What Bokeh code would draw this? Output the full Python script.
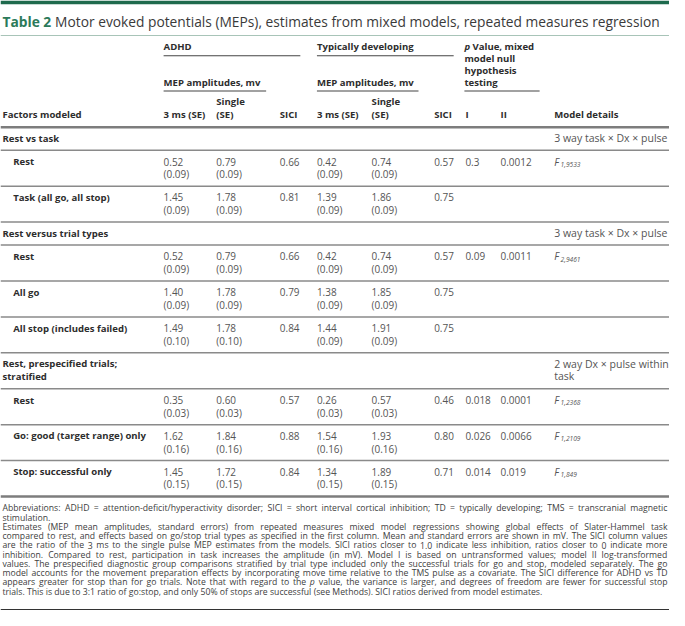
from collections import defaultdict
from bokeh.plotting import figure
from bokeh.models import Range1d, ColumnDataSource
from bokeh.core.properties import value
from bokeh.embed import file_html
from bokeh.resources import INLINE

# ---------------- data ----------------
title_label = "Table 2"
title_text = "Motor evoked potentials (MEPs), estimates from mixed models, repeated measures regression"

group_labels = [["Rest vs task"], ["Rest versus trial types"], ["Rest, prespecified trials;", "stratified"]]
group_models = [["3 way task × Dx × pulse"], ["3 way task × Dx × pulse"], ["2 way Dx × pulse within", "task"]]
rows_per_group = [2, 3, 3]

row_labels = ["Rest", "Task (all go, all stop)", "Rest", "All go", "All stop (includes failed)",
              "Rest", "Go: good (target range) only", "Stop: successful only"]
adhd_3ms = [0.52, 1.45, 0.52, 1.40, 1.49, 0.35, 1.62, 1.45]
adhd_3ms_se = [0.09, 0.09, 0.09, 0.09, 0.10, 0.03, 0.16, 0.15]
adhd_single = [0.79, 1.78, 0.79, 1.78, 1.78, 0.60, 1.84, 1.72]
adhd_single_se = [0.09, 0.09, 0.09, 0.09, 0.10, 0.03, 0.16, 0.15]
adhd_sici = [0.66, 0.81, 0.66, 0.79, 0.84, 0.57, 0.88, 0.84]
td_3ms = [0.42, 1.39, 0.42, 1.38, 1.44, 0.26, 1.54, 1.34]
td_3ms_se = [0.09, 0.09, 0.09, 0.09, 0.09, 0.03, 0.16, 0.15]
td_single = [0.74, 1.86, 0.74, 1.85, 1.91, 0.57, 1.93, 1.89]
td_single_se = [0.09, 0.09, 0.09, 0.09, 0.09, 0.03, 0.16, 0.15]
td_sici = [0.57, 0.75, 0.57, 0.75, 0.75, 0.46, 0.80, 0.71]
p_model_I = ["0.3", "", "0.09", "", "", "0.018", "0.026", "0.014"]
p_model_II = ["0.0012", "", "0.0011", "", "", "0.0001", "0.0066", "0.019"]
f_df = ["1,9533", "", "2,9461", "", "", "1,2368", "1,2109", "1,849"]

footnote_lines = [
    ("Abbreviations: ADHD = attention-deficit/hyperactivity disorder; SICI = short interval cortical inhibition; TD = typically developing; TMS = transcranial magnetic", True),
    ("stimulation.", False),
    ("Estimates (MEP mean amplitudes, standard errors) from repeated measures mixed model regressions showing global effects of Slater-Hammel task", True),
    ("compared to rest, and effects based on go/stop trial types as specified in the first column. Mean and standard errors are shown in mV. The SICI column values", True),
    ("are the ratio of the 3 ms to the single pulse MEP estimates from the models. SICI ratios closer to 1.0 indicate less inhibition, ratios closer to 0 indicate more", True),
    ("inhibition. Compared to rest, participation in task increases the amplitude (in mV). Model I is based on untransformed values; model II log-transformed", True),
    ("values. The prespecified diagnostic group comparisons stratified by trial type included only the successful trials for go and stop, modeled separately. The go", True),
    ("model accounts for the movement preparation effects by incorporating move time relative to the TMS pulse as a covariate. The SICI difference for ADHD vs TD", True),
    ("appears greater for stop than for go trials. Note that with regard to the p value, the variance is larger, and degrees of freedom are fewer for successful stop", True),
    ("trials. This is due to 3:1 ratio of go:stop, and only 50% of stops are successful (see Methods). SICI ratios derived from model estimates.", False),
]

# ---------------- layout helpers ----------------
W, H = 669, 610
RW = 685
S = W / RW          # horizontal squeeze so the full width fits

p = figure(width=W, height=H, x_range=Range1d(0, RW), y_range=Range1d(H, 0),
           x_axis_type=None, y_axis_type=None, output_backend="svg", toolbar_location=None,
           min_border=0, min_border_left=0, min_border_right=0, min_border_top=0, min_border_bottom=0)
p.grid.visible = False
p.outline_line_color = None
p.background_fill_color = "white"
p.border_fill_color = "white"

FONT = "Open Sans"
DARK = "#2d2d2d"
VAL = "#555555"
GREEN = "#2c7a5a"

buckets = defaultdict(lambda: {"x": [], "y": [], "text": []})


def put(x, y, s, size, color, style="normal"):
    b = buckets[(round(size, 3), color, style)]
    b["x"].append(x)
    b["y"].append(y)
    b["text"].append(s)


lines = defaultdict(lambda: {"x0": [], "y0": [], "x1": [], "y1": []})


def hline(x0, x1, y, color, width):
    d = lines[(color, width)]
    d["x0"].append(x0)
    d["x1"].append(x1)
    d["y0"].append(y)
    d["y1"].append(y)


# Open Sans regular advance widths (units / 2048)
REG = {" ": 532, "!": 547, "%": 1686, "'": 438, "(": 604, ")": 604, ",": 502, "-": 659, ".": 545,
       "/": 752, ":": 545, ";": 545, "=": 1171, "×": 1171,
       "A": 1296, "B": 1327, "C": 1292, "D": 1493, "E": 1139, "F": 1057, "G": 1491, "H": 1511, "I": 571,
       "J": 547, "K": 1257, "L": 1083, "M": 1849, "N": 1577, "O": 1606, "P": 1255, "Q": 1606, "R": 1276,
       "S": 1100, "T": 1118, "U": 1487, "V": 1233, "W": 1901, "X": 1163, "Y": 1148, "Z": 1145,
       "a": 1139, "b": 1255, "c": 975, "d": 1255, "e": 1149, "f": 694, "g": 1122, "h": 1257, "i": 518,
       "j": 518, "k": 1075, "l": 518, "m": 1905, "n": 1257, "o": 1237, "p": 1255, "q": 1255, "r": 836,
       "s": 977, "t": 723, "u": 1257, "v": 1026, "w": 1593, "x": 1073, "y": 1028, "z": 977}


def em(s):
    return sum(REG.get(c, 1171) for c in s) / 2048.0


# ---------------- title ----------------
p.quad(left=[0], right=[RW], top=[0], bottom=[3.8], fill_color="#1e6a4d", line_color=None)
LABEL_EM = 3.82   # bold "Table 2 " incl. trailing space
TS = (676.0 - 2.0) / (LABEL_EM + em(title_text))
put(2, 20.7, title_label, TS, GREEN, "bold")
put(2 + LABEL_EM * TS, 20.7, title_text, TS, "#3a3a3a")
hline(0, RW, 35, "#a8c4b8", 1.2)

# ---------------- column header ----------------
X = dict(lab=2, ind=13, a3=167, asg=221, asi=286, t3=324, tsg=380, tsi=444, pI=476, pII=512, md=567)
HS = 9.8      # bold labels
VS = 10.2     # regular values
MS = min(11.0, (683.0 - X["md"]) / em(group_models[0][0]))   # model-detail notes
put(X["a3"], 45.7, "ADHD", HS, DARK, "bold")
put(X["t3"], 45.7, "Typically developing", HS, DARK, "bold")
hline(167, 307, 55.2, "#444444", 1.1)
hline(324, 464, 55.2, "#444444", 1.1)
put(X["pI"] - 1, 45.7, "p", HS, DARK, "bold italic")
put(X["pI"] + 7.3, 45.7, "Value, mixed", HS, DARK, "bold")
for i, s in enumerate(["model null", "hypothesis", "testing"]):
    put(X["pI"] - 1, 57.7 + 12 * i, s, HS, DARK, "bold")
put(X["a3"], 81.7, "MEP amplitudes, mv", HS, DARK, "bold")
put(X["t3"], 81.7, "MEP amplitudes, mv", HS, DARK, "bold")
hline(167, 272, 90.5, "#444444", 1.1)
hline(324, 428, 90.5, "#444444", 1.1)
hline(475, 552, 90.5, "#444444", 1.1)
yh = 113.5
put(X["lab"], yh, "Factors modeled", HS, DARK, "bold")
for k3, ks, ki in (("a3", "asg", "asi"), ("t3", "tsg", "tsi")):
    put(X[k3], yh, "3 ms (SE)", HS, DARK, "bold")
    put(X[ks], yh - 12.2, "Single", HS, DARK, "bold")
    put(X[ks], yh, "(SE)", HS, DARK, "bold")
    put(X[ki], yh, "SICI", HS, DARK, "bold")
put(X["pI"], yh, "I", HS, DARK, "bold")
put(X["pII"], yh, "II", HS, DARK, "bold")
put(X["md"], yh, "Model details", HS, DARK, "bold")
hline(0, RW, 126.8, "#7d7d7d", 2.4)

# ---------------- body ----------------
y = 126.8
r = 0
GROUP_H, TWO_H, ROW_H = 23.0, 36.0, 35.9
for g, n in enumerate(rows_per_group):
    gl = group_labels[g]
    for j, s in enumerate(gl):
        put(X["lab"], y + 11 + 12.4 * j, s, HS, DARK, "bold")
    for j, s in enumerate(group_models[g]):
        put(X["md"], y + 11 + 12.6 * j, s, MS, VAL)
    y += GROUP_H if len(gl) == 1 else TWO_H
    hline(0, RW, y, "#8a8a8a", 1.5)
    for _ in range(n):
        y1, y2 = y + 11.2, y + 23.8
        put(X["ind"], y1, row_labels[r], HS, DARK, "bold")
        for key, v, se in (("a3", adhd_3ms, adhd_3ms_se), ("asg", adhd_single, adhd_single_se),
                           ("t3", td_3ms, td_3ms_se), ("tsg", td_single, td_single_se)):
            put(X[key], y1, f"{v[r]:.2f}", VS, VAL)
            put(X[key], y2, f"({se[r]:.2f})", VS, VAL)
        put(X["asi"], y1, f"{adhd_sici[r]:.2f}", VS, VAL)
        put(X["tsi"], y1, f"{td_sici[r]:.2f}", VS, VAL)
        if p_model_I[r]:
            put(X["pI"], y1, p_model_I[r], VS, VAL)
        if p_model_II[r]:
            put(X["pII"], y1, p_model_II[r], VS, VAL)
        if f_df[r]:
            put(X["md"], y1, "F", VS, VAL, "italic")
            put(X["md"] + 6.5, y1 + 2.9, f_df[r], 6.8, VAL, "italic")
        y += ROW_H
        r += 1
        last = r == sum(rows_per_group)
        hline(0, RW, y, "#7d7d7d" if last else "#8a8a8a", 2.4 if last else 1.5)

# ---------------- footnotes (justified) ----------------
FL, FR = 2.0, 683.0
nat = max(em(t) for t, j in footnote_lines if j)
FS = min(8.9, (FR - FL) / nat)
fy = y + 11.8
for t, just in footnote_lines:
    words = t.split(" ")
    widths = [em(w) * FS for w in words]
    gap = em(" ") * FS
    if just and len(words) > 1:
        gap = (FR - FL - sum(widths)) / (len(words) - 1)
    x = FL
    for w, ww in zip(words, widths):
        italic = (w == "p" and "regard to the p value" in t)
        put(x, fy, w, FS, "#404040", "italic" if italic else "normal")
        x += ww + gap
    fy += 9.25
hline(0, RW, 609.2, "#333333", 1.5)

# ---------------- render ----------------
for (color, width), d in lines.items():
    p.segment(x0="x0", y0="y0", x1="x1", y1="y1", source=ColumnDataSource(d),
              line_color=color, line_width=width)
for (size, color, style), d in buckets.items():
    p.text(x="x", y="y", text="text", source=ColumnDataSource(d), text_font=value(FONT),
           text_font_size=f"{size * S:.2f}px", text_color=color, text_font_style=style,
           text_align="left", text_baseline="middle")

open("out.html", "w").write(file_html(p, INLINE))
